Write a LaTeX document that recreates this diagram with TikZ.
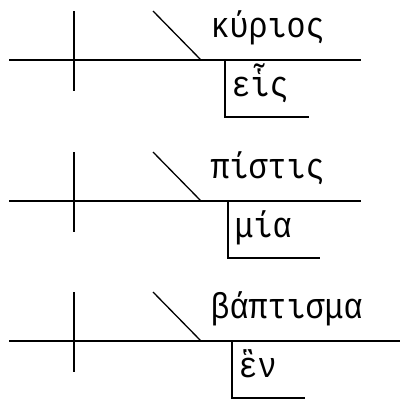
\documentclass[tikz,border=0pt]{standalone}
\usepackage{fontspec}
\newfontfamily\greekmono[FakeStretch=0.88]{Liberation Mono}
\usepackage{tikz}
\usetikzlibrary{calc}

\begin{document}
\begin{tikzpicture}[x=1pt, y=-1pt, line width=1.3pt,
    word/.style={anchor=base west, inner sep=0pt, font=\greekmono\fontsize{36}{36}\selectfont}]
  \useasboundingbox (0,0) rectangle (400,400);

  % One diagram: name, baseline y, subject, modifier, bracket x, bracket end, line end
  \newcommand{\kellogg}[7]{
    \begin{scope}[shift={(0,#2)}]
      \coordinate (#1-l) at (9,0);
      \coordinate (#1-r) at (#7,0);
      \coordinate (#1-ta) at (74,-49);
      \coordinate (#1-tb) at (74,31);
      \coordinate (#1-sa) at (153,-49);
      \coordinate (#1-sb) at (201,0);
      \coordinate (#1-ba) at (#5,0);
      \coordinate (#1-bb) at (#5,57);
      \coordinate (#1-bc) at (#6,57);
      \draw (#1-l) -- (#1-r);
      \draw (#1-ta) -- (#1-tb);
      \draw (#1-sa) -- (#1-sb);
      \draw (#1-ba) -- (#1-bb) -- (#1-bc);
      \node[word] (#1-word) at (210,-23) {#3};
      \node[word] (#1-mod) at ($(#1-ba)+(6,36)$) {#4};
    \end{scope}
  }

  \kellogg{one}{60}{κύριος}{εἷς}{225}{309}{361}
  \kellogg{two}{201}{πίστις}{μία}{228}{320}{361}
  \kellogg{three}{341}{βάπτισμα}{ἓν}{232}{305}{400}

\end{tikzpicture}
\end{document}
